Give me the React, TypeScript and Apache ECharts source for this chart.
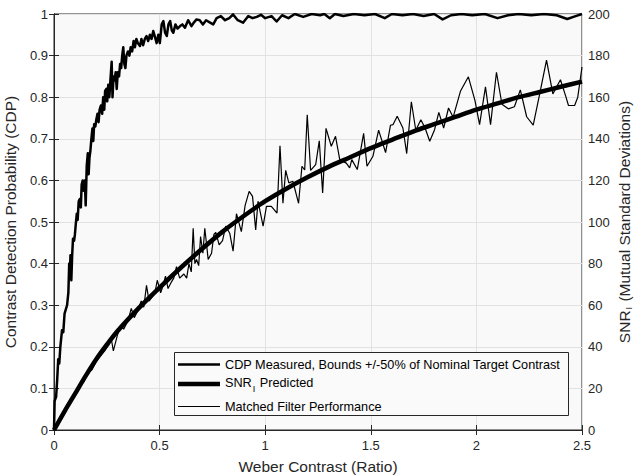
import React, { useEffect, useRef } from "react";
import * as echarts from "echarts";

// Weber contrast (x) vs. contrast detection probability (left axis)
const cdpMeasured: [number, number][] = [
  [0, 0], [0.003, 0.07], [0.01, 0.08], [0.015, 0.12], [0.02, 0.17], [0.025, 0.16], [0.03, 0.2],
  [0.038, 0.24], [0.044, 0.235], [0.05, 0.28], [0.056, 0.29], [0.062, 0.3], [0.068, 0.33],
  [0.072, 0.4], [0.076, 0.39], [0.078, 0.42], [0.082, 0.36], [0.086, 0.42], [0.09, 0.46],
  [0.095, 0.455], [0.099, 0.47], [0.104, 0.5], [0.108, 0.52], [0.112, 0.505], [0.117, 0.55],
  [0.122, 0.555], [0.127, 0.535], [0.131, 0.59], [0.136, 0.6], [0.141, 0.575], [0.146, 0.6],
  [0.15, 0.54], [0.155, 0.635], [0.16, 0.665], [0.164, 0.615], [0.168, 0.655], [0.172, 0.67],
  [0.177, 0.7], [0.182, 0.725], [0.186, 0.695], [0.19, 0.735], [0.196, 0.73], [0.2, 0.745],
  [0.206, 0.76], [0.211, 0.74], [0.216, 0.77], [0.222, 0.78], [0.228, 0.76], [0.233, 0.8],
  [0.238, 0.77], [0.242, 0.815], [0.248, 0.82], [0.252, 0.79], [0.257, 0.83], [0.262, 0.8],
  [0.267, 0.84], [0.273, 0.885], [0.277, 0.8], [0.282, 0.85], [0.287, 0.84], [0.292, 0.86],
  [0.297, 0.82], [0.302, 0.86], [0.308, 0.85], [0.313, 0.88], [0.318, 0.87], [0.323, 0.9],
  [0.328, 0.92], [0.333, 0.88], [0.338, 0.87], [0.343, 0.9], [0.35, 0.91], [0.357, 0.9],
  [0.363, 0.92], [0.37, 0.91], [0.377, 0.935], [0.383, 0.92], [0.39, 0.94], [0.397, 0.93],
  [0.407, 0.923], [0.414, 0.94], [0.422, 0.925], [0.43, 0.94], [0.438, 0.947], [0.446, 0.935],
  [0.454, 0.95], [0.462, 0.94], [0.47, 0.959], [0.478, 0.945], [0.486, 0.93], [0.494, 0.95],
  [0.501, 0.93], [0.51, 0.975], [0.518, 0.983], [0.526, 0.955], [0.534, 0.947], [0.542, 0.975],
  [0.55, 0.983], [0.558, 0.96], [0.565, 0.955], [0.575, 0.975], [0.585, 0.965], [0.597, 0.971],
  [0.608, 0.975], [0.62, 0.967], [0.635, 0.985], [0.651, 0.971], [0.663, 0.98], [0.675, 0.987],
  [0.69, 0.985], [0.705, 0.975], [0.72, 0.985], [0.737, 0.98], [0.754, 0.975], [0.77, 0.99],
  [0.79, 0.995], [0.81, 0.985], [0.83, 0.99], [0.848, 0.999], [0.87, 0.985], [0.895, 0.979],
  [0.92, 0.995], [0.94, 0.99], [0.96, 0.993], [0.98, 0.998], [1.0, 0.99], [1.03, 0.995],
  [1.054, 0.982], [1.08, 0.997], [1.11, 0.99], [1.14, 1.0], [1.18, 0.993], [1.22, 1.0],
  [1.26, 0.997], [1.28, 1.0], [1.306, 0.99], [1.33, 1.0], [1.37, 0.995], [1.42, 1.0],
  [1.47, 0.997], [1.52, 1.0], [1.566, 0.99], [1.6, 1.0], [1.65, 0.997], [1.7, 1.0],
  [1.75, 0.995], [1.8, 1.0], [1.84, 0.987], [1.88, 0.997], [1.93, 1.0], [1.98, 0.997],
  [2.04, 1.0], [2.1, 0.99], [2.15, 0.997], [2.2, 1.0], [2.26, 0.997], [2.32, 1.0],
  [2.38, 0.997], [2.43, 0.988], [2.47, 0.995], [2.5, 1.0],
];

// SNR_I predicted (right axis)
const snrPredicted: [number, number][] = [
  [0, 0], [0.05, 9], [0.1, 17.5], [0.15, 26], [0.2, 34], [0.25, 41], [0.3, 47.5], [0.4, 58.5],
  [0.5, 68.5], [0.6, 78], [0.7, 87], [0.8, 95.5], [0.9, 103], [1.0, 110], [1.1, 116],
  [1.2, 121.5], [1.3, 126.5], [1.4, 131], [1.5, 135.5], [1.6, 139.5], [1.7, 143.5], [1.8, 147],
  [1.9, 150.5], [2.0, 154], [2.1, 157], [2.2, 160], [2.3, 162.5], [2.4, 165], [2.5, 167.5],
];

// Matched filter performance (right axis)
const matchedFilter: [number, number][] = [
  [0, 0], [0.03, 5.5], [0.06, 10.5], [0.09, 15.5], [0.12, 21.5], [0.14, 23], [0.16, 27.5],
  [0.18, 29], [0.2, 33], [0.22, 35.5], [0.24, 38], [0.26, 41], [0.271, 44], [0.281, 38],
  [0.3, 45.5], [0.315, 50], [0.33, 48.5], [0.35, 52.5], [0.366, 58.5], [0.38, 54], [0.395, 57],
  [0.413, 62], [0.425, 59], [0.438, 69.5], [0.45, 62], [0.465, 64], [0.478, 66], [0.489, 72],
  [0.505, 66], [0.515, 69], [0.528, 74], [0.54, 68], [0.555, 71], [0.567, 73], [0.58, 78.5],
  [0.595, 73], [0.615, 75], [0.628, 73], [0.639, 80], [0.65, 76], [0.659, 97], [0.667, 80],
  [0.675, 82], [0.685, 79], [0.694, 93], [0.705, 85], [0.714, 97], [0.73, 82], [0.746, 85],
  [0.757, 94], [0.766, 95], [0.782, 89], [0.798, 91], [0.813, 98], [0.832, 94.6], [0.848, 86],
  [0.864, 104], [0.887, 95.4], [0.905, 108], [0.924, 114.7], [0.94, 112.3], [0.955, 96.2],
  [0.966, 110], [0.99, 98], [1.006, 107.5], [1.029, 107.5], [1.056, 104.3], [1.07, 136.7],
  [1.084, 109], [1.097, 124.8], [1.112, 118.8], [1.131, 119.6], [1.158, 109], [1.174, 126.8],
  [1.187, 125], [1.199, 151.6], [1.215, 124.8], [1.239, 127.6], [1.256, 139], [1.272, 114],
  [1.288, 145], [1.313, 136.4], [1.333, 141.2], [1.353, 130], [1.384, 128.3], [1.4, 126],
  [1.41, 130], [1.436, 125.2], [1.466, 142.6], [1.482, 126.8], [1.51, 131.6], [1.537, 144.2],
  [1.57, 133.4], [1.593, 146.5], [1.605, 146.8], [1.625, 150.8], [1.652, 145.2], [1.67, 132.9],
  [1.692, 157.8], [1.713, 144.1], [1.737, 149.2], [1.757, 145.2], [1.779, 138.8], [1.802, 144.4],
  [1.822, 152.7], [1.845, 145.2], [1.868, 154.8], [1.89, 150.4], [1.925, 163], [1.962, 169.8],
  [1.993, 158.5], [2.015, 146.8], [2.043, 165], [2.067, 146.8], [2.095, 172], [2.121, 156.6],
  [2.151, 154.4], [2.18, 155.4], [2.208, 163.5], [2.238, 150.6], [2.269, 146.6], [2.299, 161.2],
  [2.332, 177.8], [2.362, 161.6], [2.398, 168.4], [2.425, 159.8], [2.436, 156], [2.465, 156],
  [2.48, 160], [2.5, 174.5],
];

const legendLabels = [
  "CDP Measured, Bounds +/-50% of Nominal Target Contrast",
  "{a|SNR}{s|I}{a| Predicted}",
  "Matched Filter Performance",
];

const axisTitles = {
  x: "Weber Contrast (Ratio)",
  yLeft: "Contrast Detection Probability (CDP)",
  yRight: "{a|SNR}{s|I}{a| (Mutual Standard Deviations)}",
};

const FONT = "'Liberation Sans', Arial, Helvetica, sans-serif";
const INK = "#262626";

if (typeof document !== "undefined") {
  document.documentElement.style.margin = "0";
  document.documentElement.style.overflow = "hidden";
  document.body.style.margin = "0";
  document.body.style.overflow = "hidden";
}

export default function App() {
  const ref = useRef<HTMLDivElement>(null);
  useEffect(() => {
    const chart = echarts.init(ref.current!, undefined, { renderer: "svg" });
    const legendRows = [
      { y: 364.5, w: 2.5, text: legendLabels[0] },
      { y: 384, w: 4.5, text: legendLabels[1] },
      { y: 406.5, w: 1.2, text: legendLabels[2] },
    ];
    const graphics: any[] = [
      {
        type: "rect",
        shape: { x: 174.5, y: 352.5, width: 394, height: 63 },
        style: { fill: "#fafafa", stroke: INK, lineWidth: 1 },
        z: 10,
      },
      {
        type: "text",
        x: 318,
        y: 466,
        style: {
          text: axisTitles.x,
          fontSize: 15.5,
          fontFamily: FONT,
          fill: INK,
          align: "center",
          verticalAlign: "middle",
        },
        z: 10,
      },
      {
        type: "text",
        x: 10.5,
        y: 222,
        rotation: Math.PI / 2,
        style: {
          text: axisTitles.yLeft,
          fontSize: 15.5,
          fontFamily: FONT,
          fill: INK,
          align: "center",
          verticalAlign: "middle",
        },
        z: 10,
      },
      {
        type: "text",
        x: 624.5,
        y: 222,
        rotation: Math.PI / 2,
        style: {
          text: axisTitles.yRight,
          fontSize: 15.5,
          fontFamily: FONT,
          fill: INK,
          align: "center",
          verticalAlign: "middle",
          rich: {
            a: { fontSize: 15.5, fontFamily: FONT, color: INK },
            s: { fontSize: 9, fontFamily: FONT, color: INK, padding: [8, 1, 0, 1] },
          },
        },
        z: 10,
      },
    ];
    legendRows.forEach((r, i) => {
      graphics.push({
        type: "line",
        shape: { x1: 178, y1: r.y, x2: 220, y2: r.y },
        style: { stroke: "#000", lineWidth: r.w },
        z: 11,
      });
      graphics.push({
        type: "text",
        x: 225,
        y: i === 1 ? r.y - 1.5 : r.y,
        style: {
          text: r.text,
          fontSize: 12.7,
          fontFamily: FONT,
          fill: "#000",
          verticalAlign: "middle",
          rich:
            i === 1
              ? {
                  a: { fontSize: 12.7, fontFamily: FONT, color: "#000" },
                  s: { fontSize: 9, fontFamily: FONT, color: "#000", padding: [13, 1, 0, 1] },
                }
              : undefined,
        },
        z: 11,
      });
    });

    const axisCommon = {
      axisLine: { show: true, lineStyle: { color: INK, width: 1 } },
      axisTick: { show: true, inside: true, length: 5, lineStyle: { color: INK } },
      axisLabel: { color: INK, fontSize: 13, fontFamily: FONT },
    };

    chart.setOption({
      animation: false,
      backgroundColor: "#fff",
      grid: {
        left: 54,
        right: 53,
        top: 14,
        bottom: 46,
        containLabel: false,
        outerBoundsMode: "none",
        show: true,
        backgroundColor: "#f9f9f9",
        borderColor: INK,
        borderWidth: 1,
      },
      xAxis: [
        {
          type: "value",
          min: 0,
          max: 2.5,
          interval: 0.5,
          position: "bottom",
          ...axisCommon,
          axisLabel: { ...axisCommon.axisLabel, margin: 9 },
          splitLine: { show: true, lineStyle: { color: "#e2e2e2", width: 1 } },
        },
        {
          type: "value",
          min: 0,
          max: 2.5,
          interval: 0.5,
          position: "top",
          ...axisCommon,
          axisLabel: { show: false },
          splitLine: { show: false },
        },
      ],
      yAxis: [
        {
          type: "value",
          min: 0,
          max: 1,
          interval: 0.1,
          position: "left",
          ...axisCommon,
          axisLabel: { ...axisCommon.axisLabel, margin: 6 },
          splitLine: { show: true, lineStyle: { color: "#e2e2e2", width: 1 } },
        },
        {
          type: "value",
          min: 0,
          max: 200,
          interval: 20,
          position: "right",
          ...axisCommon,
          axisLabel: { ...axisCommon.axisLabel, margin: 6 },
          splitLine: { show: false },
        },
      ],
      series: [
        {
          type: "line",
          name: "CDP",
          xAxisIndex: 0,
          yAxisIndex: 0,
          data: cdpMeasured,
          showSymbol: false,
          lineStyle: { color: "#000", width: 2.5, join: "round" },
          z: 3,
        },
        {
          type: "line",
          name: "SNR",
          xAxisIndex: 0,
          yAxisIndex: 1,
          data: snrPredicted,
          showSymbol: false,
          smooth: 0.3,
          lineStyle: { color: "#000", width: 4.5 },
          z: 4,
        },
        {
          type: "line",
          name: "MF",
          xAxisIndex: 0,
          yAxisIndex: 1,
          data: matchedFilter,
          showSymbol: false,
          lineStyle: { color: "#000", width: 1.2 },
          z: 5,
        },
      ],
      graphic: graphics,
    });
    return () => chart.dispose();
  }, []);
  return (
    <div
      ref={ref}
      style={{ position: "fixed", left: 0, top: 0, width: 635, height: 476 }}
    />
  );
}
